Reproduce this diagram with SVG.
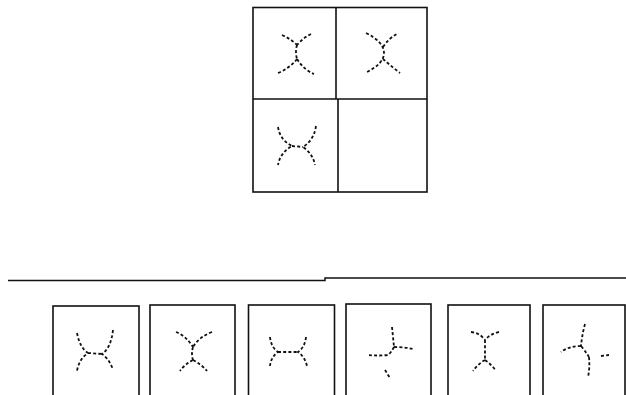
<svg xmlns="http://www.w3.org/2000/svg" width="626" height="395" viewBox="0 0 626 395">
<style>
.box{fill:none;stroke:#111;stroke-width:1.6}
.g{fill:none;stroke:#111;stroke-width:1.8;stroke-dasharray:3 2.2;stroke-linecap:butt}
.ln{fill:none;stroke:#111;stroke-width:1.5}
</style>
<rect width="626" height="395" fill="#fff"/>
<g id="grid">
<rect class="box" x="253" y="7.5" width="174" height="184.5"/>
<line class="box" x1="336" y1="7.5" x2="336" y2="99"/>
<line class="box" x1="338" y1="99" x2="338" y2="192"/>
<line class="box" x1="253" y1="99" x2="427" y2="99"/>
</g>
<g id="cell1">
<path class="g" d="M282,35 Q291,39 297,45 M311,34 Q303,38 297,45 M297,45 Q295,52 297,59 M297,59 Q290,68 278,73 M297,59 Q304,70 314,74"/>
</g>
<g id="cell2">
<path class="g" d="M366,33 Q384,42 384,53 Q384,64 365,73 M383,47 Q389,38 397,34 M383,59 Q391,66 400,73"/>
</g>
<g id="cell3">
<path class="g" d="M278,127 Q280,140 292,146 Q280,153 278,165 M316,126 Q314,140 303,147 Q313,154 315,165 M292,146 L303,147"/>
</g>
<g id="sep">
<path class="ln" d="M8,280.5 L325,280.5 L325,278 L626,278"/>
</g>
<g id="opt1">
<rect class="box" x="53" y="306" width="86" height="100"/>
<path class="g" d="M77,333 Q80,348 88,353 Q79,359 77,371 M113,330 Q111,348 102,354 Q110,360 113,370 M88,353 L102,354"/>
</g>
<g id="opt2">
<rect class="box" x="150" y="305" width="85" height="100"/>
<path class="g" d="M176,332 Q186,336 193,347 M212,332 Q199,337 193,347 M193,347 Q191,354 193,360 M193,360 Q184,365 180,371 M193,360 Q202,365 207,371"/>
</g>
<g id="opt3">
<rect class="box" x="248.5" y="305" width="86" height="100"/>
<path class="g" d="M270,337 Q271,347 278,352 Q271,357 270,366 M306,337 Q305,347 298,352 Q305,357 307,366 M278,352 L298,352"/>
</g>
<g id="opt4">
<rect class="box" x="346" y="304" width="85" height="100"/>
<path class="g" d="M392,327 Q393,337 394,347 M394,347 Q404,347 413,349 M394,347 Q391,353 388,355 Q377,356 367,355 M385,370 L390,378"/>
</g>
<g id="opt5">
<rect class="box" x="448" y="305" width="82" height="100"/>
<path class="g" d="M471,332 Q480,333 485,340 M499,332 Q490,334 485,340 M485,340 L485,360 M485,360 Q478,364 473,371 M485,360 Q492,365 496,371"/>
</g>
<g id="opt6">
<rect class="box" x="543" y="305" width="82" height="100"/>
<path class="g" d="M585,324 Q582,335 581,346 M581,346 Q569,346 561,352 M581,346 Q586,352 589,357 M601,356 L609,355 M589,357 Q590,368 588,377"/>
</g>
</svg>
